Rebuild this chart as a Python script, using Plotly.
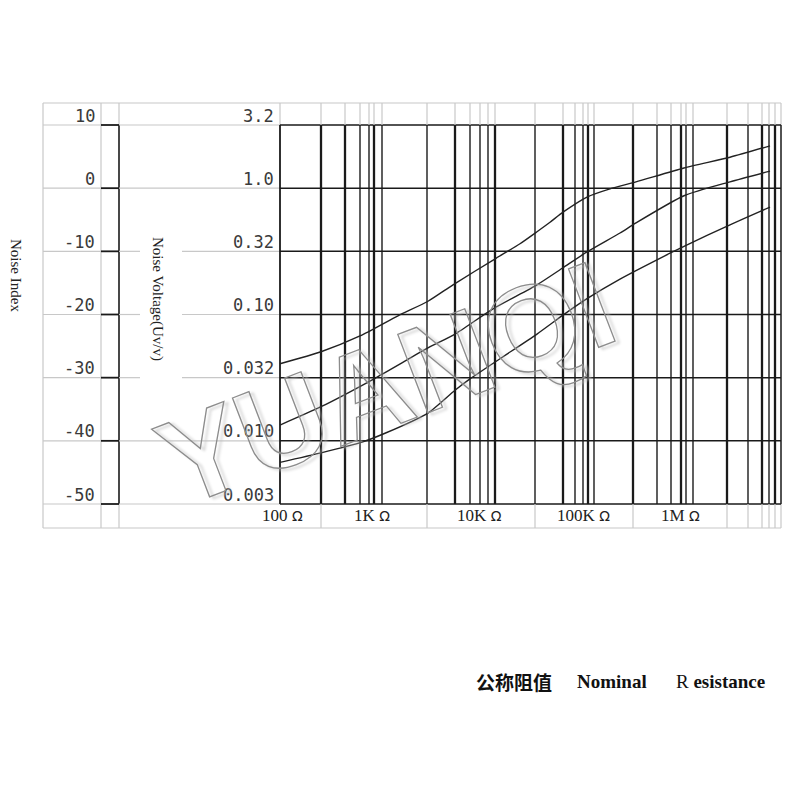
import plotly.graph_objects as go

# ---------------- data ----------------
noise_index_ticks = [10, 0, -10, -20, -30, -40, -50]            # dB
noise_voltage_labels = ["3.2", "1.0", "0.32", "0.10", "0.032", "0.010", "0.003"]
resistance_labels = ["100", "1K", "10K", "100K", "1M"]
resistance_label_pos = [2, 92, 199, 303, 400]                    # chart x units

# vertical grid positions (chart x units, plot left edge = 0)
grid_x = [41, 65, 80, 89, 94, 102, 147, 175, 190, 200, 208, 215, 255, 283, 295,
          303, 308, 314, 353, 377, 391, 401, 406, 413, 447, 468, 482, 489, 495]
grid_x_below = [41, 147, 255, 353, 447, 468, 482, 489, 495]
grid_x_thick = [41, 65, 94, 175, 215, 283, 308, 353, 401, 447, 482, 495]

# three noise curves (x in chart units, y in dB noise index)
curve_top_x = [0, 41, 80, 118, 148, 173, 216, 240, 257, 270, 283, 307, 330, 356, 404, 450, 490]
curve_top_y = [-27.8, -25.9, -23.4, -20.2, -17.9, -15.3, -11.1, -8.8, -6.9, -5.4, -3.8,
               -1.4, -0.1, 1.0, 3.2, 4.9, 6.7]
curve_mid_x = [0, 41, 95, 148, 175, 213, 257, 283, 307, 340, 356, 404, 450, 490]
curve_mid_y = [-37.5, -34.6, -30.1, -25.3, -23.1, -19.1, -15.3, -12.6, -10.1, -7.1,
               -5.5, -1.2, 1.0, 2.7]
curve_low_x = [0, 41, 82, 105, 148, 175, 190, 220, 257, 283, 307, 340, 390, 404, 450, 490]
curve_low_y = [-43.4, -41.9, -40.2, -38.8, -35.6, -32.0, -30.2, -27.0, -23.1, -20.1,
               -17.5, -14.4, -10.3, -9.2, -5.8, -3.0]

# ---------------- layout geometry ----------------
PX_PER_DB = 6.3167
PAGE_OFF = 8  # default page body margin
X_RANGE = [-280 + PAGE_OFF, 520 + PAGE_OFF]
Y_RANGE = [10 - (800 + PAGE_OFF - 125) / PX_PER_DB, 10 - (PAGE_OFF - 125) / PX_PER_DB]
X_END = 501
FRAME_L, COL_A, COL_B = -237, -179, -161
GAP_L, GAP_R = -140, -98
Y_TOP = 10 + 22 / PX_PER_DB
Y_BOT = -50 - 24 / PX_PER_DB
DB_TOP, DB_BOT = max(noise_index_ticks), min(noise_index_ticks)

GRAY = "#c8c8c8"
DARK = "#1a1a1a"

shapes = []


def seg(x0, y0, x1, y1, color, width, layer="below"):
    shapes.append(dict(type="line", xref="x", yref="y", x0=x0, y0=y0, x1=x1, y1=y1,
                       line=dict(color=color, width=width), layer=layer))


# outer light frame
seg(FRAME_L, Y_TOP, X_END, Y_TOP, GRAY, 1.2)
seg(FRAME_L, Y_BOT, X_END, Y_BOT, GRAY, 1.2)
for xv in [FRAME_L, COL_A]:
    seg(xv, Y_TOP, xv, Y_BOT, GRAY, 1.2)
seg(COL_B, Y_TOP, COL_B, DB_TOP, GRAY, 1.2)
seg(COL_B, DB_BOT, COL_B, Y_BOT, GRAY, 1.2)
seg(COL_B, DB_TOP, COL_B, DB_BOT, DARK, 1.6)
seg(0, Y_TOP, 0, DB_TOP, GRAY, 1.2)
seg(X_END, Y_TOP, X_END, DB_TOP, GRAY, 1.2)
seg(X_END, DB_BOT, X_END, Y_BOT, GRAY, 1.2)

# row lines
for db in noise_index_ticks:
    seg(FRAME_L, db, COL_A, db, GRAY, 1.2)
    seg(COL_A, db, COL_B, db, DARK, 1.8)
    if -30 <= db <= -10:
        seg(COL_B, db, GAP_L, db, GRAY, 1.2)
        seg(GAP_R, db, 0, db, GRAY, 1.2)
    else:
        seg(COL_B, db, 0, db, GRAY, 1.2)
    seg(0, db, X_END, db, DARK, 1.5)

# vertical grid lines
seg(0, DB_BOT, 0, DB_TOP, DARK, 1.8)
seg(X_END, DB_BOT, X_END, DB_TOP, DARK, 1.5)
for xv in grid_x:
    w = 2.3 if xv in grid_x_thick else 1.4
    seg(xv, DB_BOT, xv, DB_TOP, DARK, w)
    seg(xv, DB_TOP, xv, Y_TOP, GRAY, 1.2)
for xv in grid_x_below:
    seg(xv, DB_BOT, xv, Y_BOT, GRAY, 1.2)

fig = go.Figure()
for xs, ys in [(curve_top_x, curve_top_y), (curve_mid_x, curve_mid_y), (curve_low_x, curve_low_y)]:
    fig.add_trace(go.Scatter(x=xs, y=ys, mode="lines",
                             line=dict(color="#222222", width=1.4, shape="spline", smoothing=0.6),
                             hoverinfo="skip", showlegend=False))

annotations = []
MONO = dict(family="DejaVu Sans Mono", size=17, color="#3a3a3a")
for db, vl in zip(noise_index_ticks, noise_voltage_labels):
    annotations.append(dict(x=-183, y=db + 9.5 / PX_PER_DB, text=str(db), showarrow=False,
                            xanchor="right", yanchor="middle", font=MONO))
    annotations.append(dict(x=-4, y=db + 9.5 / PX_PER_DB, text=vl, showarrow=False,
                            xanchor="right", yanchor="middle", font=MONO))

SERIF = dict(family="Liberation Serif", size=15, color="#222222")
annotations.append(dict(x=-264, y=10 - (275 - 125) / PX_PER_DB, text="Noise Index",
                        showarrow=False, textangle=90, font=SERIF))
annotations.append(dict(x=-122, y=10 - (299 - 125) / PX_PER_DB, text="Noise Voltage(Uv/v)",
                        showarrow=False, textangle=90, font=SERIF))

for lab, xp in zip(resistance_labels, resistance_label_pos):
    annotations.append(dict(
        x=xp, y=-50 - 11 / PX_PER_DB,
        text=lab + "<span style='font-family:DejaVu Sans;font-size:14px'> Ω</span>",
        showarrow=False, xanchor="center", yanchor="middle",
        font=dict(family="Liberation Serif", size=17, color="#222222")))

cap_y = 10 - (681 - 125) / PX_PER_DB
annotations.append(dict(x=234, y=cap_y, text="<b>公称阻值</b>", showarrow=False,
                        font=dict(family="Noto Sans CJK SC", size=19, color="#111111")))
annotations.append(dict(x=332, y=cap_y, text="<b>Nominal</b>", showarrow=False,
                        font=dict(family="Liberation Serif", size=19, color="#111111")))
annotations.append(dict(x=440, y=cap_y, text="R <b>esistance</b>", showarrow=False,
                        font=dict(family="Liberation Serif", size=19, color="#111111")))

# watermark
annotations.append(dict(
    x=106, y=10 - (384 - 125) / PX_PER_DB, textangle=-21, showarrow=False,
    text="<span style='fill:none;stroke:#8c8c8c;stroke-width:1.3px'>YUANQI</span>",
    font=dict(family="Liberation Sans", size=122, weight="bold", color="#8c8c8c",
              shadow="3px 3px 3px #c0c0c0")))

fig.update_layout(
    width=800, height=800, margin=dict(l=0, r=0, t=0, b=0),
    paper_bgcolor="white", plot_bgcolor="white",
    xaxis=dict(range=X_RANGE, visible=False, fixedrange=True),
    yaxis=dict(range=Y_RANGE, visible=False, fixedrange=True),
    shapes=shapes, annotations=annotations, showlegend=False,
)

fig.write_html("out.html")
